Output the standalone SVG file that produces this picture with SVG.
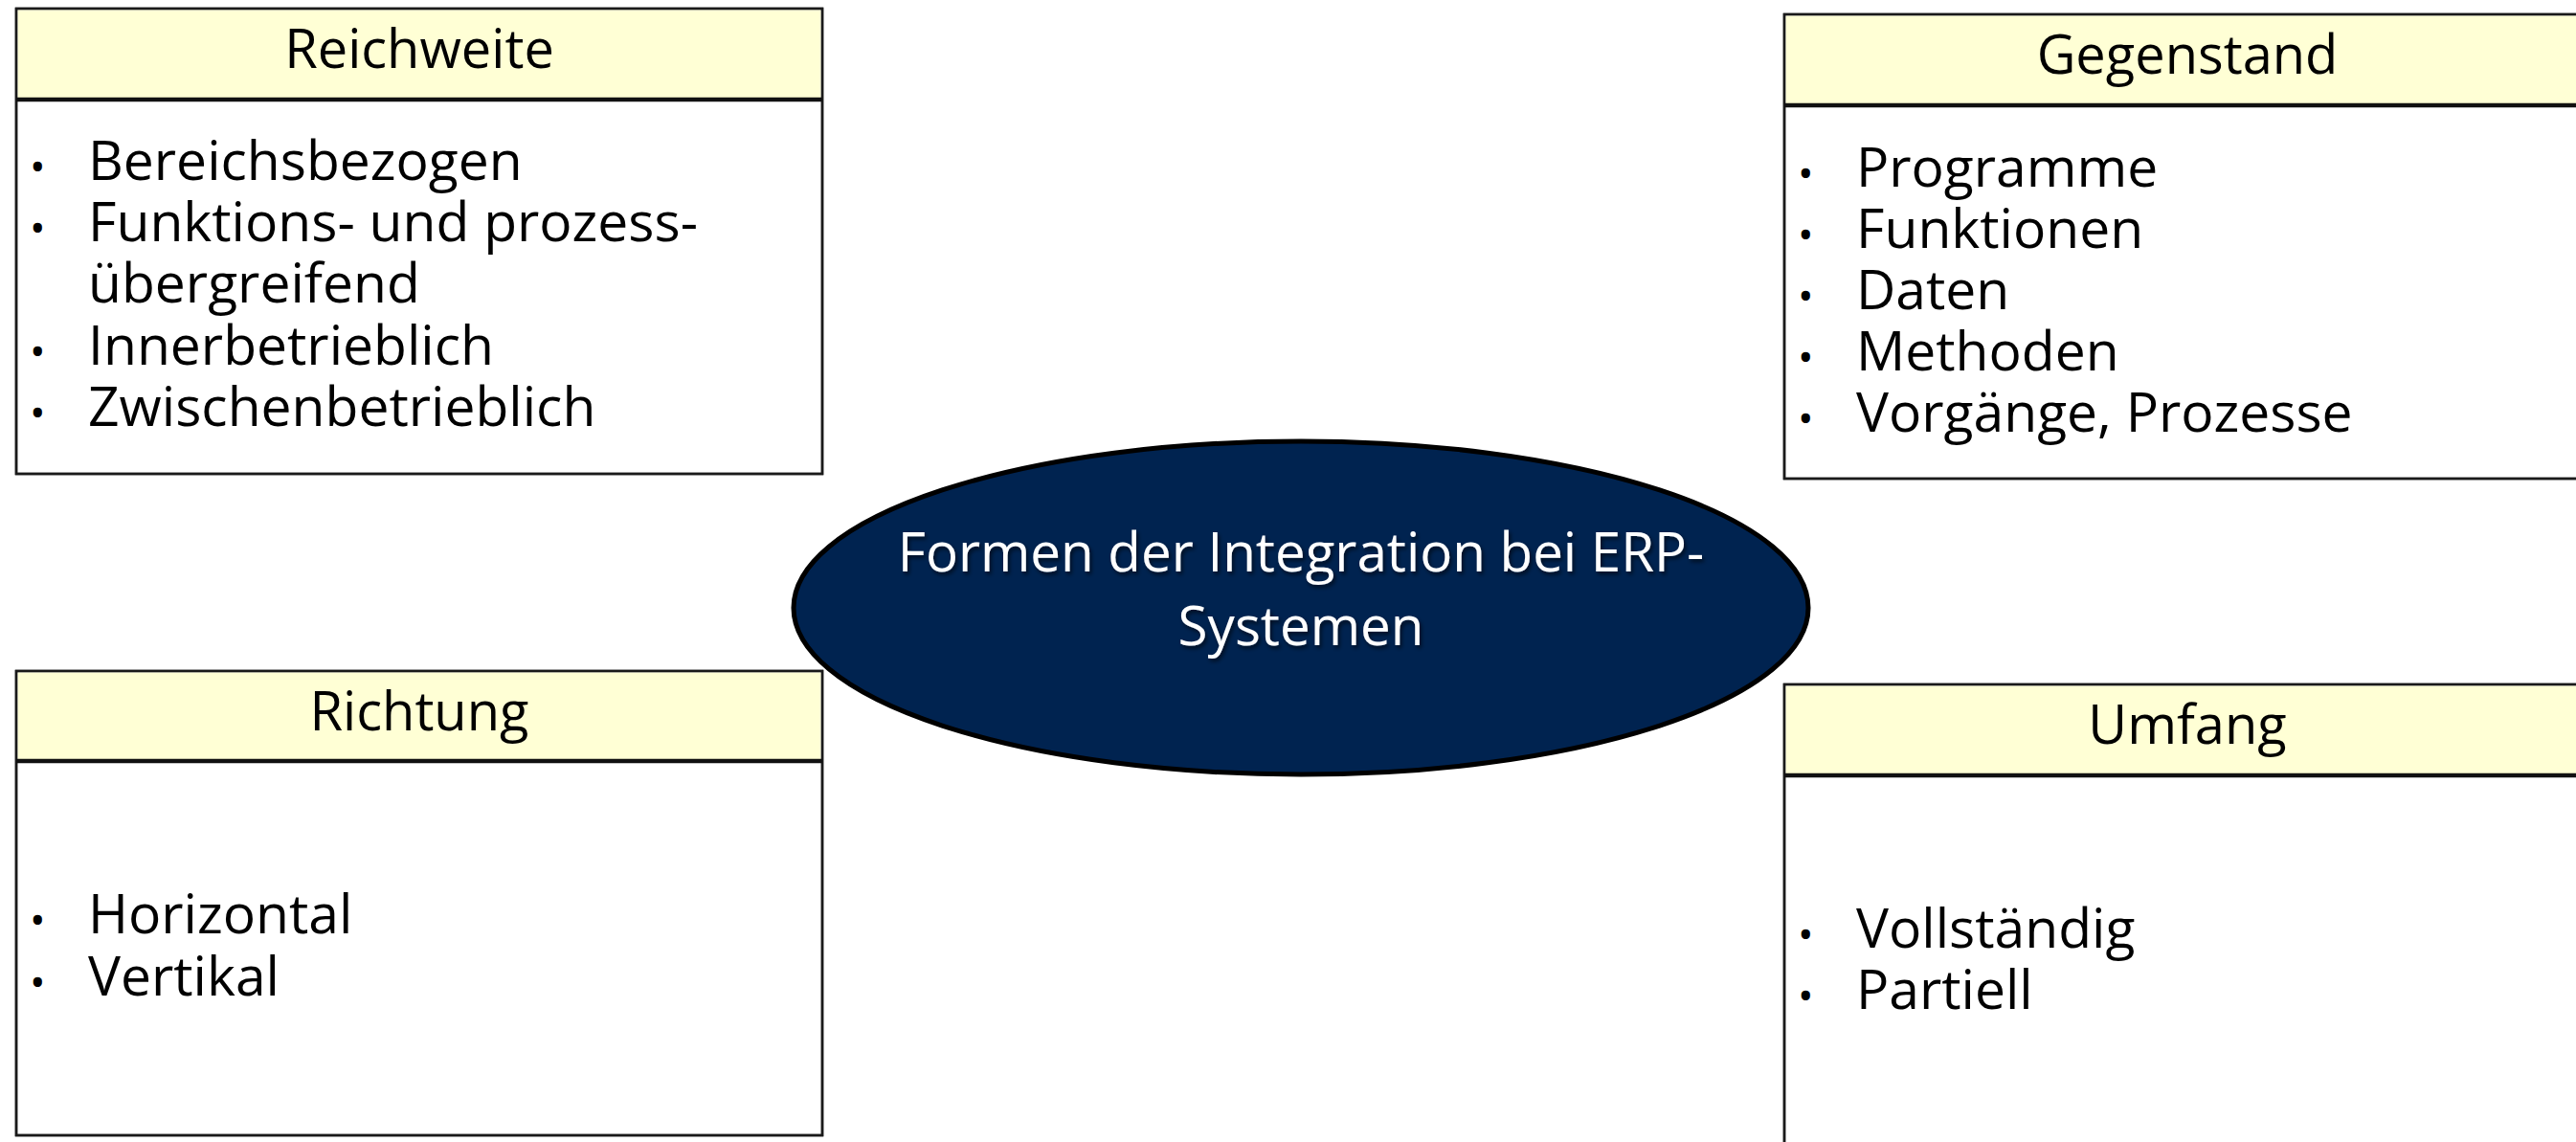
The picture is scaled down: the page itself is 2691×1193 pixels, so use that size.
<svg xmlns="http://www.w3.org/2000/svg" width="2691" height="1193" viewBox="0 0 2691 1193">
<defs>
<style>
.box{fill:#ffffff;stroke:#1a1a1a;stroke-width:2.5}
.frame{fill:none;stroke:#1a1a1a;stroke-width:2.5}
.hdr{fill:#ffffd5;stroke:none}
.div{stroke:#111;stroke-width:4.5}
.t{font-family:"Open Sans","Noto Sans",sans-serif;font-size:57px;fill:#000}
.ttl{text-anchor:middle;font-size:56px}
.b{font-size:44px}
.ell{fill:#002350;stroke:#000;stroke-width:5}
.et{font-family:"Open Sans","Noto Sans",sans-serif;font-size:56.5px;fill:#fff;text-anchor:middle}
</style>
<filter id="sh" x="-5%" y="-20%" width="110%" height="140%">
<feDropShadow dx="2" dy="3" stdDeviation="2" flood-color="#000" flood-opacity="0.6"/>
</filter>
</defs>
<rect width="2691" height="1193" fill="#fff"/>
<g id="connectors"></g>
<g id="reichweite">
<rect class="box" x="17" y="9" width="842" height="486"/>
<rect class="hdr" x="18.5" y="10.5" width="839" height="93"/>
<rect class="frame" x="17" y="9" width="842" height="486"/>
<line class="div" x1="17" y1="104" x2="859" y2="104"/>
<text class="t ttl" x="438" y="71">Reichweite</text>
<text class="t"><tspan class="b" x="31" y="190">•</tspan><tspan x="92" y="188">Bereichsbezogen</tspan><tspan class="b" x="31" y="254">•</tspan><tspan x="92" y="252">Funktions- und prozess-</tspan><tspan x="92" y="316">übergreifend</tspan><tspan class="b" x="31" y="383">•</tspan><tspan x="92" y="381">Innerbetrieblich</tspan><tspan class="b" x="31" y="447">•</tspan><tspan x="92" y="445">Zwischenbetrieblich</tspan></text>
</g>
<g id="richtung">
<rect class="box" x="17" y="701" width="842" height="485"/>
<rect class="hdr" x="18.5" y="702.5" width="839" height="92"/>
<rect class="frame" x="17" y="701" width="842" height="485"/>
<line class="div" x1="17" y1="795" x2="859" y2="795"/>
<text class="t ttl" x="438" y="763">Richtung</text>
<text class="t"><tspan class="b" x="31" y="977">•</tspan><tspan x="92" y="975">Horizontal</tspan><tspan class="b" x="31" y="1042">•</tspan><tspan x="92" y="1040">Vertikal</tspan></text>
</g>
<g id="gegenstand">
<rect class="box" x="1864" y="15" width="842" height="485"/>
<rect class="hdr" x="1865.5" y="16.5" width="839" height="93"/>
<rect class="frame" x="1864" y="15" width="842" height="485"/>
<line class="div" x1="1864" y1="110" x2="2706" y2="110"/>
<text class="t ttl" x="2285" y="77">Gegenstand</text>
<text class="t"><tspan class="b" x="1878" y="197">•</tspan><tspan x="1939" y="195">Programme</tspan><tspan class="b" x="1878" y="261">•</tspan><tspan x="1939" y="259">Funktionen</tspan><tspan class="b" x="1878" y="325">•</tspan><tspan x="1939" y="323">Daten</tspan><tspan class="b" x="1878" y="389">•</tspan><tspan x="1939" y="387">Methoden</tspan><tspan class="b" x="1878" y="453">•</tspan><tspan x="1939" y="451">Vorgänge, Prozesse</tspan></text>
</g>
<g id="umfang">
<rect class="box" x="1864" y="715" width="842" height="490"/>
<rect class="hdr" x="1865.5" y="716.5" width="839" height="93"/>
<rect class="frame" x="1864" y="715" width="842" height="490"/>
<line class="div" x1="1864" y1="810" x2="2706" y2="810"/>
<text class="t ttl" x="2285" y="777">Umfang</text>
<text class="t"><tspan class="b" x="1878" y="992">•</tspan><tspan x="1939" y="990">Vollständig</tspan><tspan class="b" x="1878" y="1056">•</tspan><tspan x="1939" y="1054">Partiell</tspan></text>
</g>
<g id="center">
<ellipse class="ell" cx="1359" cy="635" rx="530" ry="174"/>
<text class="et" filter="url(#sh)"><tspan x="1359" y="597">Formen der Integration bei ERP-</tspan><tspan x="1359" y="674">Systemen</tspan></text>
</g>
</svg>
